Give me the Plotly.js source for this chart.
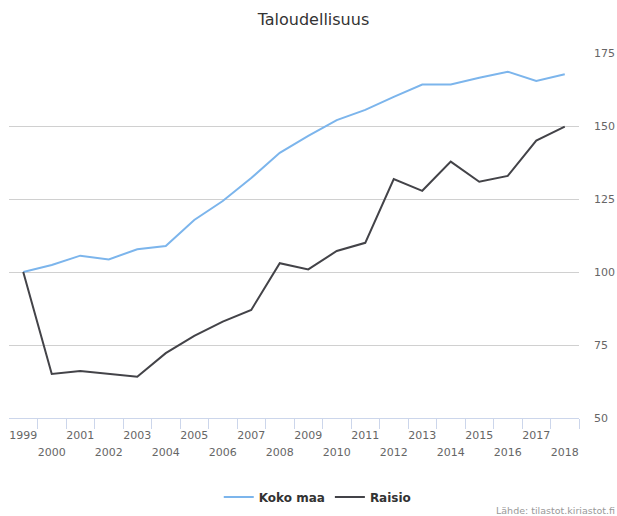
<!DOCTYPE html>
<html><head><meta charset="utf-8">
<script src="https://cdn.plot.ly/plotly-3.0.1.min.js"></script>
<style>html,body{margin:0;padding:0;background:#fff}#chart{width:617px;height:516px}</style>
</head><body><div id="chart"></div>
<script>
const years = [1999,2000,2001,2002,2003,2004,2005,2006,2007,2008,2009,2010,2011,2012,2013,2014,2015,2016,2017,2018];
const kokoMaa = [100,102.4,105.6,104.3,107.8,108.9,117.8,124.3,132.2,140.8,146.6,152,155.5,160,164.2,164.2,166.5,168.6,165.4,167.7];
const raisio = [100,65.1,66.1,65.1,64.1,72.2,78.1,83,87,103,100.9,107.2,110,131.8,127.8,137.8,130.9,132.9,145,149.8];
const yTicks = [50,75,100,125,150,175];
const titleText = 'Taloudellisuus';
const seriesNames = ['Koko maa','Raisio'];
const creditText = 'Lähde: tilastot.kiriastot.fi';

const oddYears = years.filter(y => y % 2 === 1);
const evenYears = years.filter(y => y % 2 === 0);
const tickBoundaries = years.map(y => y + 0.5);
const xRange = [years[0] - 0.5, years[years.length - 1] + 0.5];
const font = 'DejaVu Sans, Verdana, sans-serif';

const traces = [
  {x: years, y: kokoMaa, name: seriesNames[0], type: 'scatter', mode: 'lines',
   line: {color: '#7cb5ec', width: 2}, hoverinfo: 'x+y'},
  {x: years, y: raisio, name: seriesNames[1], type: 'scatter', mode: 'lines',
   line: {color: '#434348', width: 2}, hoverinfo: 'x+y'},
  // empty helper traces so the overlaying label/tick axes are drawn
  {x: [null], y: [null], xaxis: 'x2', type: 'scatter', mode: 'lines', showlegend: false, hoverinfo: 'skip'},
  {x: [null], y: [null], xaxis: 'x3', type: 'scatter', mode: 'lines', showlegend: false, hoverinfo: 'skip'}
];

const baseX = {range: xRange, showgrid: false, zeroline: false, fixedrange: true,
  tickfont: {family: font, size: 11, color: '#666666'}};

const plotL = 9, plotR = 579, plotT = 53, plotB = 418;

const layout = {
  width: 617, height: 516,
  margin: {l: plotL, r: 617 - plotR, t: plotT, b: 516 - plotB},
  paper_bgcolor: '#ffffff', plot_bgcolor: '#ffffff',
  title: {text: titleText, font: {family: font, size: 16, color: '#333333'},
    x: 0.508, xref: 'container', xanchor: 'center', y: 1 - 19/516, yref: 'container', yanchor: 'middle'},
  xaxis: Object.assign({}, baseX, {
    tickmode: 'array', tickvals: oddYears, ticktext: oddYears.map(String),
    ticks: '', showline: true, linecolor: '#ccd6eb', linewidth: 1, ticklabelstandoff: 7
  }),
  xaxis2: Object.assign({}, baseX, {
    overlaying: 'x', anchor: 'y', side: 'bottom',
    tickmode: 'array', tickvals: evenYears, ticktext: evenYears.map(String),
    ticks: '', showline: false, ticklabelstandoff: 26
  }),
  xaxis3: Object.assign({}, baseX, {
    overlaying: 'x', anchor: 'y', side: 'bottom',
    tickmode: 'array', tickvals: tickBoundaries, showticklabels: false,
    ticks: 'outside', ticklen: 10, tickcolor: '#ccd6eb', tickwidth: 1, showline: false
  }),
  yaxis: {range: [yTicks[0], yTicks[yTicks.length-1]], side: 'right', tickmode: 'array', tickvals: yTicks,
    showgrid: true, gridcolor: '#d0d0d0', gridwidth: 1, zeroline: false, ticks: '',
    tickfont: {family: font, size: 11, color: '#666666'}, ticklabelstandoff: 14, fixedrange: true},
  showlegend: true,
  legend: {orientation: 'h', x: 0.515, xref: 'container', xanchor: 'center', y: 1 - 497/516, yref: 'container', yanchor: 'middle',
    font: {family: font, size: 12, color: '#333333', weight: 'bold'}, itemclick: false, itemdoubleclick: false},
  annotations: [{text: creditText, xref: 'paper', yref: 'paper',
    x: (617 - plotL) / (plotR - plotL), y: (plotB - 510) / (plotB - plotT),
    xanchor: 'right', yanchor: 'middle', showarrow: false, font: {family: font, size: 9.5, color: '#999999'}}]
};

Plotly.newPlot('chart', traces, layout, {displayModeBar: false, staticPlot: true});
</script>
</body></html>
